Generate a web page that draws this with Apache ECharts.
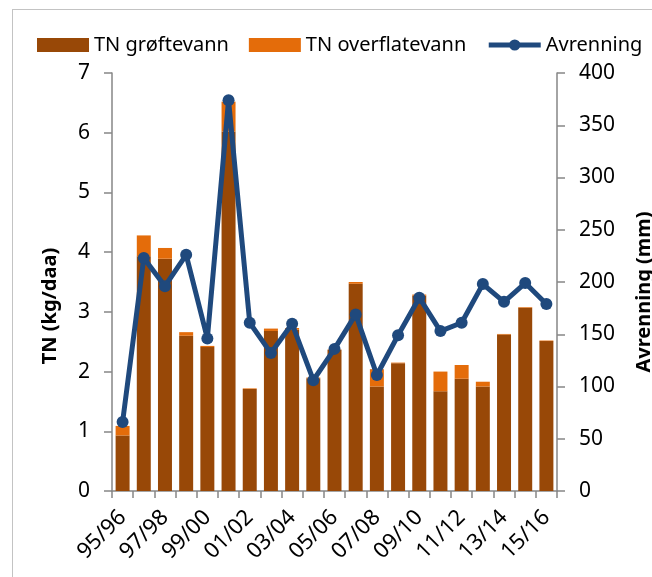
<!DOCTYPE html>
<html>
<head>
<meta charset="utf-8">
<script src="https://cdn.jsdelivr.net/npm/echarts@6/dist/echarts.min.js"></script>
<style>
  html, body { margin: 0; padding: 0; background: #fff; }
  #frame { position: absolute; left: 12px; top: 9px; width: 700px; height: 600px;
           border-left: 1px solid #c3c3c3; border-top: 1px solid #c3c3c3; }
  #main { position: absolute; left: 0; top: 0; width: 652px; height: 577px; }
</style>
</head>
<body>
<div id="frame"></div>
<div id="main"></div>
<script>
// sesonger (hydrologisk år)
var seasons = ['95/96', '96/97', '97/98', '98/99', '99/00', '00/01', '01/02', '02/03', '03/04', '04/05', '05/06',
    '06/07', '07/08', '08/09', '09/10', '10/11', '11/12', '12/13', '13/14', '14/15', '15/16'];

// TN i grøftevann (kg/daa)
var tnGroft = [0.93, 3.93, 3.89, 2.60, 2.41, 6.02, 1.71, 2.68, 2.70, 1.89, 2.36,
    3.47, 1.75, 2.14, 3.27, 1.67, 1.88, 1.75, 2.62, 3.07, 2.51];

// TN i overflatevann (kg/daa), stablet oppå grøftevann
var tnOverflate = [0.16, 0.35, 0.18, 0.06, 0.02, 0.50, 0.01, 0.04, 0.03, 0.01, 0.01,
    0.03, 0.29, 0.01, 0.02, 0.33, 0.23, 0.08, 0.01, 0.01, 0.01];

// avrenning (mm)
var avrenning = [66, 223, 196, 226, 146, 374, 161, 132, 160, 106, 136,
    169, 111, 149, 185, 153, 161, 198, 181, 199, 179];

var leftTicks = [0, 1, 2, 3, 4, 5, 6, 7];
var rightTicks = [0, 50, 100, 150, 200, 250, 300, 350, 400];

var font = 'Noto Sans';
var axisGray = '#868686';

var myChart = echarts.init(document.getElementById('main'));

var option = {
    animation: false,
    textStyle: { fontFamily: font, color: '#000' },
    legend: {
        left: 32,
        top: 30,
        itemWidth: 52,
        itemHeight: 14,
        itemGap: 20,
        textStyle: { fontSize: 20, fontFamily: font, color: '#000' },
        data: [
            { name: 'TN grøftevann', icon: 'rect' },
            { name: 'TN overflatevann', icon: 'rect' },
            { name: 'Avrenning', lineStyle: { width: 5, color: '#1F497D' } }
        ]
    },
    grid: { left: 112, right: 95, top: 73, bottom: 86, outerBoundsMode: 'none' },
    xAxis: {
        type: 'category',
        data: seasons,
        boundaryGap: true,
        axisLine: { lineStyle: { color: axisGray, width: 1.5 } },
        axisTick: { show: true, interval: 0, length: 7, lineStyle: { color: axisGray, width: 1.5 } },
        axisLabel: { interval: 1, rotate: 45, margin: 23, fontSize: 22, color: '#000', fontFamily: font }
    },
    yAxis: [{
        type: 'value',
        min: 0,
        max: 7,
        interval: 1,
        name: 'TN (kg/daa)',
        nameLocation: 'middle',
        nameGap: 52,
        nameMoveOverlap: false,
        nameTextStyle: { fontSize: 20, fontWeight: 'bold', fontFamily: font, color: '#000', padding: [0, 48, 0, 0] },
        splitLine: { show: false },
        axisLine: { show: true, lineStyle: { color: axisGray, width: 1.5 } },
        axisTick: { show: true, length: 8, lineStyle: { color: axisGray, width: 1.5 } },
        axisLabel: { margin: 22, fontSize: 21, color: '#000', fontFamily: font }
    }, {
        type: 'value',
        min: 0,
        max: 400,
        interval: 50,
        name: 'Avrenning (mm)',
        nameLocation: 'middle',
        nameGap: 77,
        nameMoveOverlap: false,
        nameTextStyle: { fontSize: 20, fontWeight: 'bold', fontFamily: font, color: '#000', padding: [0, 20, 0, 0] },
        splitLine: { show: false },
        axisLine: { show: true, lineStyle: { color: axisGray, width: 1.5 } },
        axisTick: { show: true, length: 8, lineStyle: { color: axisGray, width: 1.5 } },
        axisLabel: { margin: 22, fontSize: 21, color: '#000', fontFamily: font }
    }],
    series: [{
        name: 'TN grøftevann',
        type: 'bar',
        stack: 'tn',
        yAxisIndex: 0,
        data: tnGroft,
        barCategoryGap: '34%',
        itemStyle: { color: '#984807' }
    }, {
        name: 'TN overflatevann',
        type: 'bar',
        stack: 'tn',
        yAxisIndex: 0,
        data: tnOverflate,
        itemStyle: { color: '#E46C0A' }
    }, {
        name: 'Avrenning',
        type: 'line',
        yAxisIndex: 1,
        data: avrenning,
        symbol: 'circle',
        symbolSize: 12,
        lineStyle: { color: '#1F497D', width: 5 },
        itemStyle: { color: '#1F497D' }
    }]
};

myChart.setOption(option);
</script>
</body>
</html>
